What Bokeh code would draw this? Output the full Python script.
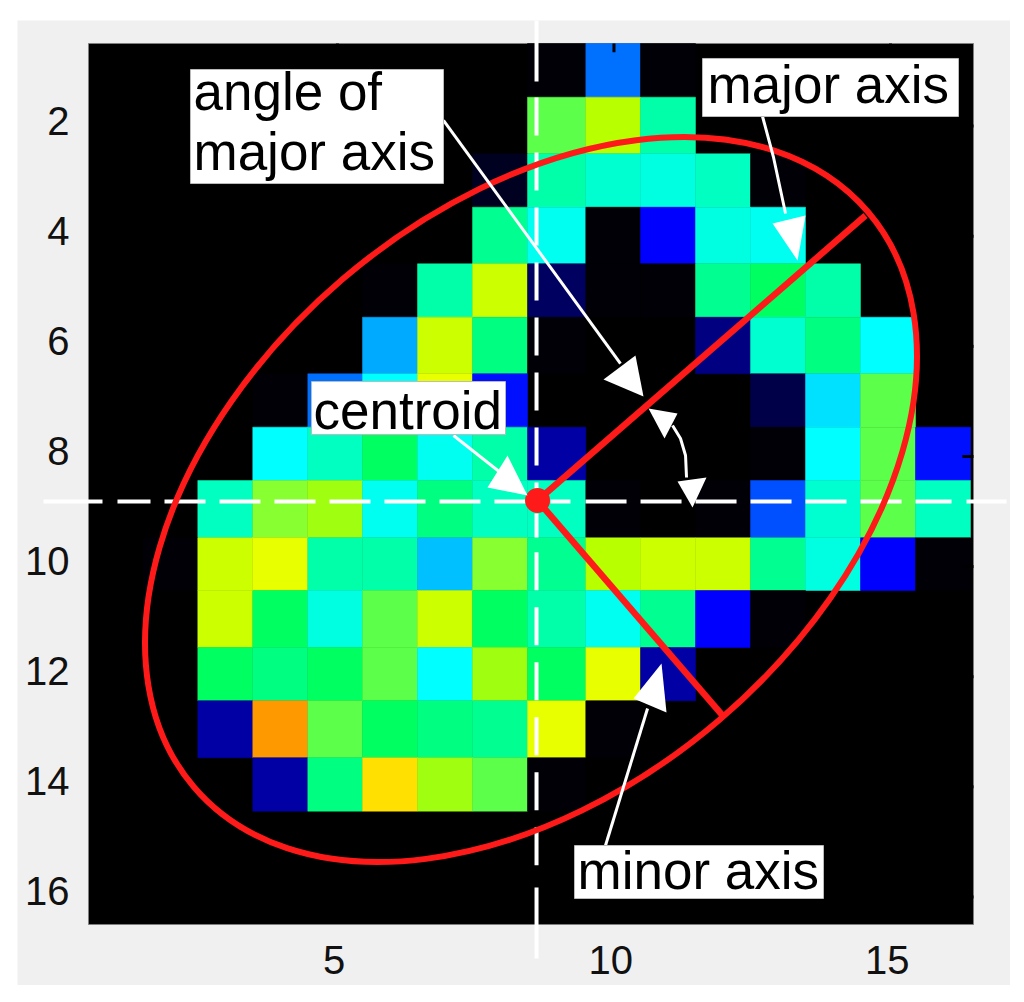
from bokeh.embed import file_html
from bokeh.resources import INLINE
from bokeh.plotting import figure
from bokeh.models import Range1d, FixedTicker
from bokeh.core.properties import value

# colour levels of the image
palette = ["#000000", "#000006", "#000020", "#000048", "#000060", "#000080", "#0000A4", "#0000FF",
           "#0010FF", "#0050FF", "#0070FF", "#00AAFF", "#00C0FF", "#00E0FF", "#00FFFF", "#00FFF0",
           "#00FFE0", "#00FFD0", "#00FFC0", "#00FFA8", "#00FF90", "#00FF80", "#00FF60", "#5CFF4A",
           "#88FF30", "#A0FF10", "#B8FF00", "#CCFF00", "#E8FF00", "#FFE000", "#FF9900"]

image_rows = [
    [0, 0, 0, 0, 0, 0, 0, 0, 1, 10, 1, 0, 0, 0, 0, 0],
    [0, 0, 0, 0, 0, 0, 0, 0, 23, 26, 19, 0, 0, 0, 0, 0],
    [0, 0, 0, 0, 0, 0, 0, 2, 19, 17, 16, 18, 1, 0, 0, 0],
    [0, 0, 0, 0, 0, 0, 0, 20, 15, 1, 7, 16, 15, 0, 0, 0],
    [0, 0, 0, 0, 0, 1, 19, 27, 4, 1, 1, 20, 22, 19, 0, 0],
    [0, 0, 0, 0, 0, 11, 27, 21, 1, 0, 0, 5, 17, 21, 14, 0],
    [0, 0, 0, 1, 10, 14, 28, 8, 0, 0, 0, 0, 3, 13, 23, 0],
    [0, 0, 0, 14, 18, 22, 15, 19, 6, 0, 0, 0, 1, 14, 23, 8],
    [0, 0, 18, 24, 25, 15, 21, 18, 18, 1, 0, 1, 9, 17, 23, 18],
    [0, 1, 27, 28, 19, 19, 12, 24, 20, 26, 27, 27, 20, 16, 7, 1],
    [0, 0, 27, 22, 16, 23, 27, 22, 19, 15, 20, 7, 1, 0, 0, 0],
    [0, 0, 22, 21, 22, 23, 14, 25, 22, 28, 6, 0, 0, 0, 0, 0],
    [0, 0, 6, 30, 23, 22, 21, 20, 28, 1, 0, 0, 0, 0, 0, 0],
    [0, 0, 0, 6, 21, 29, 25, 23, 1, 0, 0, 0, 0, 0, 0, 0],
    [0] * 16,
    [0] * 16,
]

# the picture's cell boundaries, in axis units
col_edges = [0.5, 1.485, 2.476, 3.470, 4.465, 5.454, 6.448, 7.443, 8.437, 9.491,
             10.480, 11.474, 12.469, 13.463, 14.457, 15.452, 16.446]
row_edges = [0.5, 1.475, 2.503, 3.473, 4.501, 5.471, 6.499, 7.468, 8.436, 9.477,
             10.434, 11.470, 12.437, 13.472, 14.442, 15.465, 16.5]

x_ticks = [5, 10, 15]
y_ticks = [2, 4, 6, 8, 10, 12, 14, 16]

centroid = (8.618, 8.800)
major_end = (14.548, 3.624)
minor_end = (11.962, 12.704)
ellipse_center = (8.500, 8.782)
ellipse_width = 16.02
ellipse_height = 10.53
ellipse_angle = 40.5

h_line_y = 8.818
v_line_x = 8.600
# runs of the dashed cross lines (start, end, dashed?)
h_runs = [(-0.314, 0.753, False), (1.024, 1.621, False), (1.874, 8.564, True), (8.853, 9.214, False),
          (9.486, 16.103, True), (16.374, 17.097, False)]
v_runs = [(0.082, 1.190, False), (1.481, 8.618, True), (9.036, 9.472, False), (9.739, 15.556, True),
          (15.828, 17.118, False)]

leaders = [
    ([6.918, 10.118], [1.898, 6.312]),
    ([7.099, 8.130], [7.619, 8.437]),
    ([12.686, 12.885, 13.102], [1.826, 2.570, 3.587]),
    ([9.847, 10.607], [15.066, 12.578]),
    ([11.059, 11.203, 11.294, 11.312], [7.438, 7.674, 7.983, 8.382]),
]
heads = [
    ([10.389, 9.811, 10.534], [6.166, 6.602, 6.911]),
    ([8.076, 7.714, 8.437], [7.983, 8.564, 8.709]),
    ([12.867, 13.463, 13.319], [3.769, 3.624, 4.441]),
    ([10.353, 10.950, 10.860], [12.396, 12.650, 11.760]),
    ([10.625, 11.149, 10.914], [7.129, 7.220, 7.674]),
    ([11.420, 11.149, 11.673], [8.927, 8.455, 8.382]),
]
boxes_left = [2.344, 4.532, 11.601, 9.287]
boxes_right = [6.918, 8.039, 16.229, 13.788]
boxes_top = [0.972, 6.639, 0.772, 15.066]
boxes_bottom = [3.043, 7.601, 1.826, 16.028]
label_x = [2.398, 2.398, 4.568, 11.691, 9.341]
label_y = [1.372, 2.462, 7.166, 1.245, 15.521]
label_text = ["angle of", "major axis", "centroid", "major axis", "minor axis"]

RED = "#FF1A1A"
GREY = "#F0F0F0"
FONT = "Liberation Sans"

# the plot area spans the whole grey panel; the image box is a part of it
p = figure(width=993, height=965, margin=(20, 0, 0, 17), output_backend="svg", toolbar_location=None,
           x_range=Range1d(-0.7836, 17.169), y_range=Range1d(17.608, 0.0823),
           min_border_left=0, min_border_right=0, min_border_top=0, min_border_bottom=0,
           background_fill_color=GREY, border_fill_color=GREY, outline_line_color=None)
p.grid.visible = False

p.quad(left=[0.5], right=[16.5], top=[0.5], bottom=[16.5], fill_color="black", line_color="#808080", line_width=1)

x_axis, y_axis = p.xaxis[0], p.yaxis[0]
x_axis.fixed_location = 16.5
y_axis.fixed_location = 0.5
x_label_at = [t - 0.06 for t in x_ticks]
y_label_at = [t - 0.1 for t in y_ticks]
x_axis.ticker = FixedTicker(ticks=x_label_at)
y_axis.ticker = FixedTicker(ticks=y_label_at)
x_axis.major_label_overrides = {a: str(t) for a, t in zip(x_label_at, x_ticks)}
y_axis.major_label_overrides = {a: str(t) for a, t in zip(y_label_at, y_ticks)}
for ax, standoff in ((x_axis, 16), (y_axis, 13)):
    ax.axis_line_color = None
    ax.major_tick_line_color = None
    ax.minor_tick_line_color = None
    ax.major_label_text_font = FONT
    ax.major_label_text_font_size = "40px"
    ax.major_label_text_color = "#111111"
    ax.major_label_standoff = standoff

left, rightc, tops, bottoms, colors = [], [], [], [], []
for r, row in enumerate(image_rows):
    for c, level in enumerate(row):
        if level:
            left.append(col_edges[c])
            rightc.append(col_edges[c + 1])
            tops.append(row_edges[r])
            bottoms.append(row_edges[r + 1])
            colors.append(palette[level])
p.quad(left=left, right=rightc, top=tops, bottom=bottoms, fill_color=colors, line_color=colors, line_width=0.5)

# inward ticks on the top and right sides of the box
p.segment(x0=x_ticks, x1=x_ticks, y0=[0.5] * 3, y1=[0.66] * 3, line_color="black", line_width=3)
p.segment(x0=[16.5] * 8, x1=[16.3] * 8, y0=y_ticks, y1=y_ticks, line_color="black", line_width=3)

for a, b, dashed in h_runs:
    p.line([a, b], [h_line_y, h_line_y], line_color="white", line_width=4, line_dash="41 14" if dashed else "solid")
for a, b, dashed in v_runs:
    p.line([v_line_x, v_line_x], [a, b], line_color="white", line_width=4, line_dash="38 17" if dashed else "solid")

p.ellipse(x=[ellipse_center[0]], y=[ellipse_center[1]], width=[ellipse_width], height=[ellipse_height],
          angle=[ellipse_angle], angle_units="deg", fill_color=None, line_color=RED, line_width=6)
p.line([centroid[0], major_end[0]], [centroid[1], major_end[1]], line_color=RED, line_width=6.5)
p.line([centroid[0], minor_end[0]], [centroid[1], minor_end[1]], line_color=RED, line_width=6.5)
p.scatter([centroid[0]], [centroid[1]], size=25, marker="circle", fill_color=RED, line_color=None)

for xs, ys in leaders:
    p.line(xs, ys, line_color="white", line_width=3)
for xs, ys in heads:
    p.patch(xs, ys, fill_color="white", line_color=None)

p.quad(left=boxes_left, right=boxes_right, top=boxes_top, bottom=boxes_bottom,
       fill_color="white", line_color="#BBBBBB", line_width=1)
p.text(x=label_x, y=label_y, text=label_text, text_font=value(FONT), text_font_size=value("53px"),
       text_color="black", text_align="left", text_baseline="alphabetic")

open("out.html", "w").write(file_html(p, INLINE))
